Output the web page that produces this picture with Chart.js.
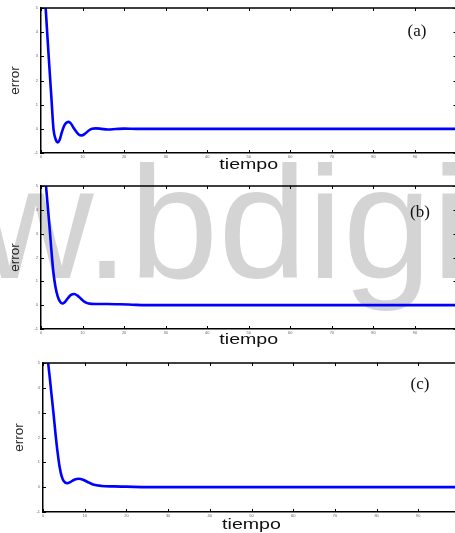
<!DOCTYPE html>
<html>
<head>
<meta charset="utf-8">
<script src="https://cdn.jsdelivr.net/npm/chart.js@4.4.1/dist/chart.umd.min.js"></script>
<style>
  html, body { margin: 0; padding: 0; width: 455px; height: 533px; overflow: hidden; background: #fff; }
  canvas { position: absolute; left: 0; }
</style>
</head>
<body>
<canvas id="mark" width="455" height="533" style="top:0"></canvas>
<canvas id="ca" width="460" height="180" style="top:0"></canvas>
<canvas id="cb" width="460" height="172" style="top:178px"></canvas>
<canvas id="cc" width="462" height="181" style="top:352px"></canvas>
<script>
// error signal e(t) for the three controller settings
const timeA  = [0, 0.5, 1.0, 1.5, 2.0, 2.5, 3.0, 3.5, 4.0, 4.5, 5.0, 5.5, 6.0, 6.6, 7.2, 8.0, 9.0, 9.8, 10.6, 11.5, 12.3, 13.2, 14.5, 16, 18, 20, 23, 30, 100];
const errorA = [6.5, 6.2, 5.3, 3.95, 2.6, 1.3, 0.0, -0.42, -0.56, -0.45, -0.15, 0.1, 0.24, 0.29, 0.22, 0.0, -0.22, -0.27, -0.2, -0.07, 0.0, 0.02, 0.0, -0.03, -0.01, 0.01, 0.0, 0.0, 0.0];

const timeB  = [0, 0.5, 1.0, 1.5, 2.0, 2.5, 3.0, 3.5, 4.0, 4.5, 5.1, 5.7, 6.5, 7.2, 8.0, 8.8, 9.6, 10.5, 11.5, 13, 16, 19, 22, 25, 100];
const errorB = [6.5, 6.1, 5.4, 4.4, 3.4, 2.3, 1.35, 0.75, 0.38, 0.17, 0.07, 0.12, 0.3, 0.43, 0.47, 0.4, 0.27, 0.14, 0.07, 0.05, 0.05, 0.04, 0.02, 0.0, 0.0];

const timeC  = [0, 0.5, 1.0, 1.5, 2.0, 2.5, 3.0, 3.5, 4.0, 4.5, 5.0, 5.8, 6.5, 7.5, 8.6, 9.6, 10.6, 12, 14, 17, 20, 25, 100];
const errorC = [6.0, 5.7, 5.3, 4.6, 3.8, 3.0, 2.15, 1.4, 0.8, 0.42, 0.24, 0.16, 0.2, 0.3, 0.34, 0.3, 0.22, 0.11, 0.05, 0.03, 0.02, 0.0, 0.0];

const xTicks = [0, 10, 20, 30, 40, 50, 60, 70, 80, 90];
const yTicks = [-1, 0, 1, 2, 3, 4, 5];
const panelTags = ['(a)', '(b)', '(c)'];
const xTitle = 'tiempo';
const yTitle = 'error';
const markText = 'ww.bdigital';

// background lettering
(function drawMark() {
  const c = document.getElementById('mark');
  const ctx = c.getContext('2d');
  ctx.font = '160px "Liberation Sans", Arial, sans-serif';
  ctx.fillStyle = '#d4d4d4';
  ctx.textBaseline = 'alphabetic';
  const lead = ctx.measureText('ww').width;
  ctx.fillText(markText, 93.6 - lead, 278);
})();

// box, inward ticks, x title and panel tag
const framePlugin = {
  id: 'frame',
  afterDraw(chart, args, opts) {
    const { ctx, chartArea: a, scales: { x, y } } = chart;
    ctx.save();
    ctx.strokeStyle = '#000';
    ctx.lineWidth = 1.5;
    ctx.beginPath();
    ctx.moveTo(a.left, a.top);
    ctx.lineTo(a.right, a.top);
    ctx.lineTo(a.right, a.bottom);
    ctx.stroke();

    ctx.lineWidth = 1;
    ctx.beginPath();
    x.ticks.forEach(t => {
      const px = Math.round(x.getPixelForValue(t.value)) + 0.5;
      ctx.moveTo(px, a.bottom); ctx.lineTo(px, a.bottom - 3);
      ctx.moveTo(px, a.top); ctx.lineTo(px, a.top + 3);
    });
    y.ticks.forEach(t => {
      const py = Math.round(y.getPixelForValue(t.value)) + 0.5;
      ctx.moveTo(a.left, py); ctx.lineTo(a.left + 3, py);
      ctx.moveTo(a.right, py); ctx.lineTo(a.right - 3, py);
    });
    ctx.stroke();

    // axis title, drawn wide
    ctx.fillStyle = '#111';
    ctx.font = '14px "Liberation Sans", Arial, sans-serif';
    ctx.textAlign = 'center';
    ctx.textBaseline = 'middle';
    ctx.save();
    ctx.translate((a.left + a.right) / 2, a.bottom + opts.titleOffset);
    ctx.scale(1.4, 1);
    ctx.fillText(xTitle, 0, 0);
    ctx.restore();

    // panel tag
    ctx.font = '17px "Liberation Serif", "DejaVu Serif", serif';
    ctx.fillText(opts.tag, opts.tagX, opts.tagY);
    ctx.restore();
  }
};

function makePanel(id, time, values, geo) {
  const points = time.map((t, i) => ({ x: t, y: values[i] }));
  return new Chart(document.getElementById(id), {
    type: 'line',
    data: {
      datasets: [{
        data: points,
        borderColor: '#0000ff',
        borderWidth: 2.6,
        pointRadius: 0,
        fill: false,
        cubicInterpolationMode: 'monotone',
        clip: 0
      }]
    },
    options: {
      responsive: false,
      animation: false,
      devicePixelRatio: 1,
      layout: { padding: { top: geo.top, right: geo.right, left: 0, bottom: 0 } },
      plugins: {
        legend: { display: false },
        tooltip: { enabled: false },
        frame: { tag: geo.tag, tagX: geo.tagX, tagY: geo.tagY, titleOffset: geo.titleOffset }
      },
      scales: {
        x: {
          type: 'linear',
          min: 0, max: 100,
          afterBuildTicks: s => { s.ticks = xTicks.map(v => ({ value: v })); },
          afterFit: s => { s.height = geo.xh; },
          grid: { display: false, drawTicks: false },
          border: { display: true, color: '#000', width: 1.5 },
          ticks: {
            autoSkip: false, maxRotation: 0, padding: 1.5,
            color: '#666', font: { size: 4, family: '"Liberation Sans", Arial, sans-serif' }
          },
          title: { display: false }
        },
        y: {
          type: 'linear',
          min: -1, max: 5,
          afterBuildTicks: s => { s.ticks = yTicks.map(v => ({ value: v })); },
          afterFit: s => { s.width = geo.yw; },
          grid: { display: false, drawTicks: false },
          border: { display: true, color: '#000', width: 1.5 },
          ticks: {
            autoSkip: false, padding: 3,
            color: '#666', font: { size: 4, family: '"Liberation Sans", Arial, sans-serif' }
          },
          title: {
            display: true, text: yTitle, color: '#222',
            padding: { top: geo.yTitlePad, bottom: 0 },
            font: { size: 13.5, family: '"Liberation Sans", Arial, sans-serif' }
          }
        }
      }
    },
    plugins: [framePlugin]
  });
}

makePanel('ca', timeA, errorA, { top: 8, right: 3.5, xh: 27, yw: 41, yTitlePad: 7.5, titleOffset: 12, tag: panelTags[0], tagX: 417, tagY: 32 });
makePanel('cb', timeB, errorB, { top: 8, right: 3.5, xh: 21, yw: 41, yTitlePad: 7.5, titleOffset: 11, tag: panelTags[1], tagX: 420, tagY: 35 });
makePanel('cc', timeC, errorC, { top: 11, right: 2, xh: 21, yw: 43, yTitlePad: 11.5, titleOffset: 13.5, tag: panelTags[2], tagX: 420, tagY: 33 });
</script>
</body>
</html>
